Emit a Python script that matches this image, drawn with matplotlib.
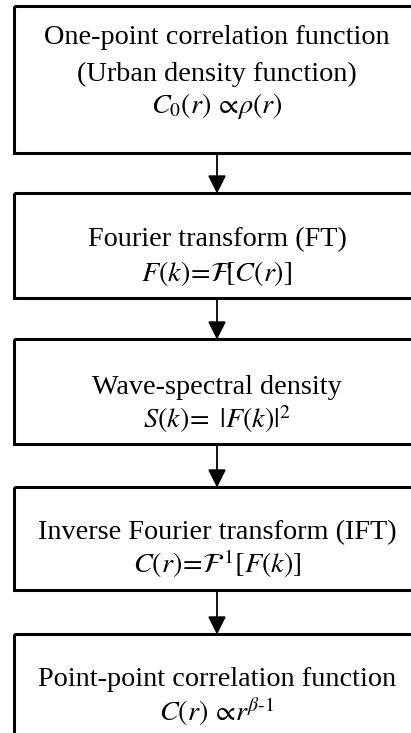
import matplotlib.pyplot as plt
from matplotlib.patches import Rectangle, Polygon

plt.rcParams['font.family'] = ['Liberation Serif', 'DejaVu Serif']
plt.rcParams['mathtext.fontset'] = 'stix'

# box texts (first lines plain text, last line formula)
titles = [
    ['One-point correlation function', '(Urban density function)'],
    ['Fourier transform (FT)'],
    ['Wave-spectral density'],
    ['Inverse Fourier transform (IFT)'],
    ['Point-point correlation function'],
]
formulas = [
    r'$C_0(r)\,\propto\!\rho(r)$',
    r'$F(k)\!=\!\mathcal{F}\![C(r)]$',
    r'$S(k)\!=\ |F(k)|^2$',
    r'$C(r)\!=\!\mathcal{F}^{\,1}[F(k)]$',
    r'$C(r)\,\propto\! r^{\beta\text{-}1}$',
]

# layout in pixel units
box_top = [6, 193, 339, 487, 634]
box_bot = [153, 298, 444, 590, 745]
line_y = [[38, 74, 106], [240, 273], [388, 419], [533, 564], [680, 712]]
x_left, x_right, x_mid = 13.5, 421, 217

fig = plt.figure(figsize=(4.11, 7.33), dpi=100)
ax = fig.add_axes([0, 0, 1, 1])
ax.set_xlim(0, 411)
ax.set_ylim(733, 0)
ax.axis('off')

for i in range(len(titles)):
    ax.add_patch(Rectangle((x_left, box_top[i]), x_right - x_left,
                           box_bot[i] - box_top[i], fill=False,
                           edgecolor='black', linewidth=2.2))
    lines = titles[i] + [formulas[i]]
    for txt, y in zip(lines, line_y[i]):
        ax.text(x_mid, y, txt, ha='center', va='center', fontsize=20.3)

# arrows between boxes
for i in range(len(titles) - 1):
    y0 = box_bot[i]
    y1 = box_top[i + 1]
    ax.plot([x_mid, x_mid], [y0, y1 - 15], color='black', linewidth=1.3)
    ax.add_patch(Polygon([[x_mid - 8, y1 - 17], [x_mid + 8, y1 - 17],
                          [x_mid, y1 - 1]], closed=True, color='black'))

fig.savefig('out.png', dpi=100)
